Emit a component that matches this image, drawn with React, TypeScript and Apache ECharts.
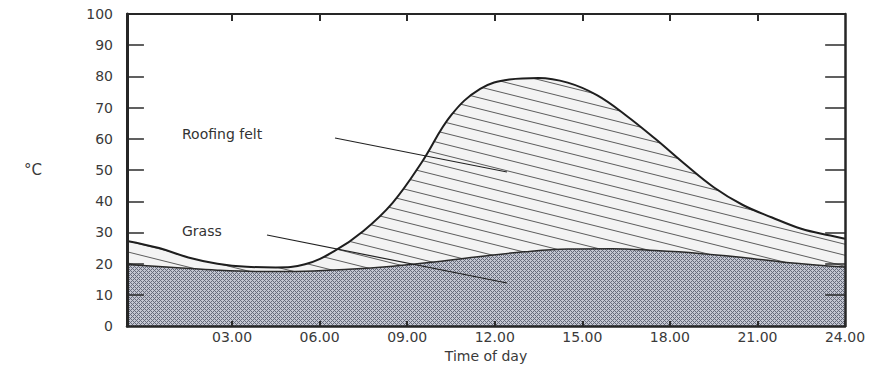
import React, { useEffect, useRef } from 'react';
import * as echarts from 'echarts';

// Roofing felt surface temperature (°C) by time of day (hours)
const feltHours = [-0.6, 0.5, 1.5, 2.5, 3.5, 4.5, 5.5, 6.5, 7.5, 8.5, 9.5, 10.5, 11.5, 12.5, 13.5, 14.5, 15.5, 16.5, 17.5, 18.5, 19.5, 20.5, 21.5, 22.5, 23.5, 24.0];
const feltTemp = [27.3, 25.0, 22.0, 20.0, 19.0, 18.8, 19.8, 24.0, 30.5, 39.5, 52.5, 67.5, 76.0, 79.0, 79.5, 78.0, 74.0, 67.5, 60.0, 52.0, 44.5, 38.8, 34.8, 31.2, 29.0, 28.0];

// Grass surface temperature (°C)
const grassHours = [-0.6, 1.0, 2.5, 4.0, 5.5, 7.0, 8.5, 10.0, 11.5, 13.0, 14.5, 16.0, 17.5, 19.0, 20.5, 22.0, 24.0];
const grassTemp = [19.7, 18.8, 17.9, 17.5, 17.6, 18.2, 19.2, 20.6, 22.3, 23.8, 24.7, 24.8, 24.2, 23.3, 22.0, 20.4, 18.9];

const tickHours = [3, 6, 9, 12, 15, 18, 21, 24];
const topTickHours = [3, 6, 9, 12, 15, 18, 21];
const yTickValues = [10, 20, 30, 40, 50, 60, 70, 80, 90];

const X_MIN = -0.6;
const X_MAX = 24;
const FONT = 'DejaVu Sans';
const INK = '#262626';

function makeHatch() {
  const w = 44, h = 11;
  const c = document.createElement('canvas');
  c.width = w; c.height = h;
  const ctx = c.getContext('2d')!;
  ctx.fillStyle = '#f3f3f3';
  ctx.fillRect(0, 0, w, h);
  ctx.strokeStyle = '#5c5c5c';
  ctx.lineWidth = 1;
  for (const dy of [-h, 0, h]) {
    ctx.beginPath();
    ctx.moveTo(0, dy);
    ctx.lineTo(w, dy + h);
    ctx.stroke();
  }
  return c;
}

function makeCross() {
  const n = 4;
  const c = document.createElement('canvas');
  c.width = n; c.height = n;
  const ctx = c.getContext('2d')!;
  ctx.fillStyle = '#c3c6d1';
  ctx.fillRect(0, 0, n, n);
  ctx.fillStyle = '#666b7b';
  for (let x = 0; x < n; x++) {
    for (let y = 0; y < n; y++) {
      if ((x + y) % 4 === 0 || (x - y + 4) % 4 === 0) ctx.fillRect(x, y, 1, 1);
    }
  }
  return c;
}

const pad = (v: number) => (v < 10 ? '0' + v : '' + v) + '.00';

export default function App() {
  const ref = useRef<HTMLDivElement>(null);
  useEffect(() => {
    if (!ref.current) return;
    const chart = echarts.init(ref.current, null, { renderer: 'svg' });
    const hatch = makeHatch();
    const cross = makeCross();
    const felt = feltHours.map((h, i) => [h, feltTemp[i]]);
    const grass = grassHours.map((h, i) => [h, grassTemp[i]]);
    // inward tick marks on the left (≈17px) and right (≈20px) frame, in data units
    const leftTicks = yTickValues.map((v) => [{ coord: [X_MIN, v] }, { coord: [X_MIN + 0.58, v] }]);
    const rightTicks = yTickValues.map((v) => [{ coord: [X_MAX - 0.68, v] }, { coord: [X_MAX, v] }]);
    chart.setOption({
      animation: false,
      backgroundColor: '#ffffff',
      grid: { left: 127, right: 45, top: 14, bottom: 35 },
      xAxis: [
        {
          type: 'value', min: X_MIN, max: X_MAX, position: 'bottom', z: 5,
          axisLine: { onZero: false, lineStyle: { color: INK, width: 2.5 } }, splitLine: { show: false },
          axisTick: { show: true, inside: true, length: 5, customValues: tickHours, lineStyle: { color: '#2b2b2b', width: 2 } },
          axisLabel: { customValues: tickHours, formatter: (v: number) => pad(v), fontFamily: FONT, fontSize: 14, color: '#3a3a3a', margin: 4 },
          name: 'Time of day', nameLocation: 'middle', nameGap: 19,
          nameTextStyle: { fontFamily: FONT, fontSize: 14, color: '#3a3a3a' },
        },
        {
          type: 'value', min: X_MIN, max: X_MAX, position: 'top', z: 5,
          axisLine: { show: true, onZero: false, lineStyle: { color: INK, width: 2 } }, splitLine: { show: false },
          axisTick: { show: true, inside: true, length: 7, customValues: topTickHours, lineStyle: { color: '#2b2b2b', width: 2 } },
          axisLabel: { show: false },
        },
      ],
      yAxis: [
        {
          type: 'value', min: 0, max: 100, interval: 10, position: 'left', z: 5,
          axisLine: { show: true, onZero: false, lineStyle: { color: INK, width: 3 } }, splitLine: { show: false },
          axisTick: { show: false },
          axisLabel: { fontFamily: FONT, fontSize: 14, color: '#3a3a3a', margin: 14 },
          name: '°C', nameLocation: 'middle', nameRotate: 0, nameGap: 85,
          nameTextStyle: { fontFamily: FONT, fontSize: 15, color: '#3a3a3a' },
        },
        {
          type: 'value', min: 0, max: 100, interval: 10, position: 'right', z: 5,
          axisLine: { show: true, onZero: false, lineStyle: { color: INK, width: 2.5 } }, splitLine: { show: false },
          axisTick: { show: false },
          axisLabel: { show: false },
        },
      ],
      series: [
        {
          name: 'Roofing felt', type: 'line', data: felt, smooth: 0.4, showSymbol: false,
          lineStyle: { color: '#1e1e1e', width: 2 },
          areaStyle: { color: { image: hatch, repeat: 'repeat', imageWidth: 44, imageHeight: 11 }, opacity: 1 },
          z: 2,
        },
        {
          name: 'Grass', type: 'line', data: grass, smooth: 0.4, showSymbol: false,
          lineStyle: { color: '#2a2a2a', width: 1.5 },
          areaStyle: { color: { image: cross, repeat: 'repeat', imageWidth: 4, imageHeight: 4 }, opacity: 1 },
          markLine: {
            silent: true, symbol: 'none', animation: false,
            label: { show: false },
            lineStyle: { color: '#2b2b2b', width: 1.5, type: 'solid' },
            emphasis: { disabled: true },
            data: [...leftTicks, ...rightTicks],
          },
          z: 3,
        },
      ],
      graphic: [
        { type: 'text', left: 182, top: 127, style: { text: 'Roofing felt', font: `14px "${FONT}"`, fill: '#333' }, z: 10 },
        { type: 'line', shape: { x1: 335, y1: 138, x2: 507, y2: 172 }, style: { stroke: '#222', lineWidth: 1.2 }, z: 10 },
        { type: 'text', left: 182, top: 224, style: { text: 'Grass', font: `14px "${FONT}"`, fill: '#333' }, z: 10 },
        { type: 'line', shape: { x1: 267, y1: 235, x2: 507, y2: 283 }, style: { stroke: '#222', lineWidth: 1.2 }, z: 10 },
      ],
    });
    return () => chart.dispose();
  }, []);
  return <div ref={ref} style={{ width: 890, height: 368, position: 'absolute', left: 0, top: 0 }} />;
}
